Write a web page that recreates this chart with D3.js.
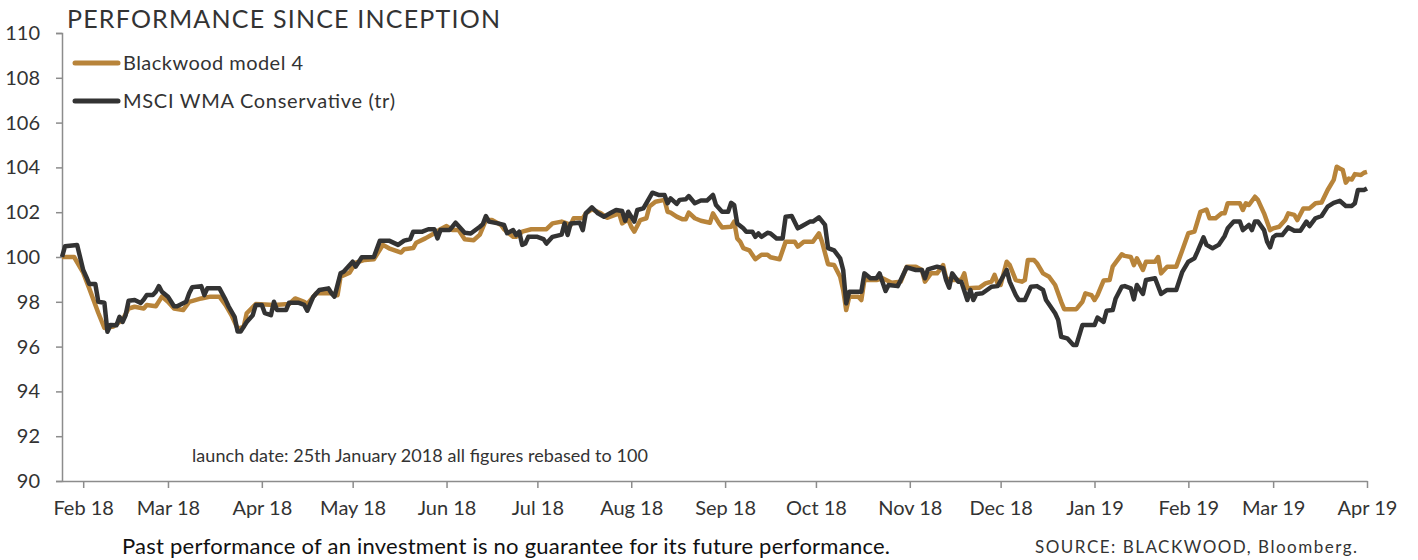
<!DOCTYPE html>
<html>
<head>
<meta charset="utf-8">
<script src="https://cdn.jsdelivr.net/npm/d3@7"></script>
<style>
  html, body { margin: 0; padding: 0; background: #ffffff; }
  svg { display: block; font-family: Lato, "Open Sans", sans-serif; }
</style>
</head>
<body>
<svg id="chart" width="1418" height="560"></svg>
<script>
// ---- data (days since launch, 25 Jan 2018; index rebased to 100) ----
const launchDate = "2018-01-25";
const endDate = "2019-04-01";
const yTicks = [90, 92, 94, 96, 98, 100, 102, 104, 106, 108, 110];
const seriesNames = ["Blackwood model 4", "MSCI WMA Conservative (tr)"];

const modelDays = [0,4,7,9,12,14,17,20,22,24,27,28,31,33,35,37,40,42,46,49,52,54,56,58,60,61,64,70,75,77,80,81,84,89,91,92,95,97,100,103,106,108,112,113,116,117,120,123,125,127,129,131,133,136,138,140,142,145,146,149,150,152,155,160,162,165,166,168,169,172,173,175,178,180,182,184,185,187,188,189,191,193,194,196,199,200,201,203,205,206,207,209,211,214,215,217,218,221,222,223,224,225,227,229,231,233,234,237,239,242,243,245,248,250,251,253,255,257,258,259,260,263,264,265,269,271,274,277,279,282,284,285,287,289,291,292,294,297,298,299,302,303,305,307,308,309,310,312,313,315,317,318,319,321,322,324,326,328,330,331,335,337,338,340,341,342,344,346,347,350,351,353,354,355,357,358,361,362,363,365,368,370,372,374,376,378,379,381,383,384,385,389,390,391,392,394,395,397,399,400,402,404,405,407,408,410,412,414,416,418,420,421,422,423,424,425,426,427,429,430,431];
const modelValues = [100.0,100.0,99.3,98.6,97.5,96.83,96.9,97.2,97.7,97.78,97.7,97.86,97.8,98.23,98.0,97.7,97.63,98.0,98.15,98.23,98.23,97.86,97.4,96.8,96.88,97.49,97.9,97.86,97.9,98.15,98.0,97.9,98.38,98.38,98.3,99.12,99.3,99.75,99.87,99.9,100.54,100.39,100.2,100.35,100.4,100.64,100.83,101.06,101.24,101.38,101.2,101.2,100.79,100.75,101.0,101.65,101.65,101.43,101.24,100.9,100.9,101.13,101.24,101.24,101.5,101.58,101.53,101.43,101.73,101.73,101.95,102.13,101.95,101.75,101.85,101.95,101.5,101.68,101.35,101.13,101.65,101.73,102.25,102.47,102.55,102.02,101.98,101.8,101.68,101.68,101.98,101.73,101.62,101.53,101.95,101.5,101.32,101.35,101.58,100.83,100.68,100.4,100.3,99.9,100.1,100.1,99.99,99.9,100.68,100.68,100.46,100.68,100.68,101.06,100.68,99.68,99.64,99.12,98.53,97.63,98.23,98.23,98.08,98.97,98.97,99.05,98.85,98.9,99.57,99.57,99.42,98.9,99.27,99.27,99.64,99.05,98.97,98.97,99.27,98.6,98.63,98.63,98.82,98.9,99.2,98.82,98.75,99.79,99.64,98.97,98.9,98.97,99.87,99.87,99.72,99.27,99.12,98.75,98.0,97.67,97.67,98.0,98.38,98.3,98.08,98.3,98.95,98.97,99.57,100.12,100.05,100.0,99.64,99.94,99.42,99.79,99.79,100.0,99.27,99.57,99.57,100.3,101.06,101.13,102.02,102.12,101.73,101.73,101.95,101.95,102.4,102.4,102.1,102.4,102.32,102.69,102.54,101.95,101.2,101.28,101.35,101.65,101.95,101.88,101.65,102.17,102.17,102.4,102.43,102.99,103.44,104.03,103.95,103.88,103.32,103.5,103.46,103.7,103.66,103.76,103.8];

const msciDays = [0,1,5,7,8,9,11,12,14,15,16,18,19,20,21,22,24,26,27,28,30,31,32,33,35,37,38,41,42,43,46,47,48,52,54,55,57,58,59,61,63,64,66,67,69,70,71,74,75,78,80,81,83,85,88,89,90,92,93,96,97,99,103,105,108,111,113,115,116,119,121,123,124,125,128,130,133,135,138,139,140,141,144,146,147,149,150,151,152,153,154,157,159,160,162,165,166,167,168,171,172,173,175,177,179,181,183,185,186,187,189,190,192,193,195,197,199,200,201,203,204,206,207,209,211,213,215,216,218,220,221,222,223,225,226,228,229,230,231,233,234,236,238,239,241,243,244,247,248,250,252,253,255,257,258,259,260,264,265,267,269,270,272,273,276,277,279,282,284,285,286,289,291,292,293,294,296,297,299,300,301,302,304,307,309,310,312,313,315,316,318,320,322,324,325,328,329,330,332,334,335,337,341,342,344,345,347,348,350,351,353,354,355,357,358,361,363,365,368,370,372,374,375,377,378,380,382,384,385,387,389,390,392,393,394,395,397,398,399,400,401,403,405,407,409,411,412,414,416,418,420,422,424,426,427,428,430,431];
const msciValues = [100.0,100.48,100.54,99.42,99.12,98.8,98.8,98.0,97.96,96.66,96.96,96.95,97.33,97.1,97.4,98.05,98.08,97.95,98.1,98.3,98.3,98.45,98.7,98.45,98.23,97.8,97.8,98.0,98.38,98.65,98.7,98.3,98.6,98.6,98.1,97.8,97.33,96.67,96.67,97.1,97.4,97.86,97.86,97.49,97.4,98.0,97.63,97.63,97.96,97.96,97.86,97.6,98.23,98.53,98.6,98.38,98.23,99.27,99.34,99.79,99.57,99.99,100.0,100.73,100.73,100.54,100.73,100.8,101.13,101.13,101.24,101.24,100.83,101.2,101.2,101.53,101.08,101.05,101.35,101.47,101.83,101.58,101.5,101.43,101.06,101.2,100.98,101.13,100.54,100.6,100.9,100.9,100.8,100.6,100.9,101.0,101.5,100.98,101.5,101.53,101.2,101.95,102.22,101.95,101.8,101.95,102.1,102.05,101.62,102.02,101.58,102.1,102.17,102.4,102.87,102.77,102.77,102.4,102.62,102.37,102.55,102.58,102.72,102.4,102.52,102.52,102.77,102.32,102.02,102.02,102.42,102.32,101.5,101.28,101.13,101.13,100.9,101.05,100.9,101.08,101.05,100.83,100.83,101.8,101.83,101.28,101.35,101.58,101.58,101.77,101.43,100.4,100.3,99.94,99.42,97.93,98.45,98.45,99.27,99.05,99.05,99.27,98.48,98.75,98.7,98.97,99.54,99.42,99.42,99.05,99.45,99.57,99.5,98.97,98.63,99.27,98.9,98.9,98.08,98.53,98.08,98.35,98.38,98.67,98.7,98.94,99.42,98.9,98.3,98.08,98.08,98.67,98.7,98.53,98.08,97.49,97.19,96.44,96.37,96.07,96.07,96.96,96.96,97.3,97.1,97.6,97.63,98.15,98.67,98.7,98.6,98.11,98.75,98.35,98.97,99.05,98.35,98.53,98.53,99.34,99.79,99.94,100.24,100.88,100.54,100.39,100.54,100.94,101.28,101.58,101.58,101.2,101.43,101.2,101.58,101.58,101.2,100.68,100.43,100.88,100.98,100.98,101.32,101.17,101.17,101.58,101.38,101.73,101.83,102.25,102.42,102.51,102.28,102.28,102.4,102.99,102.99,103.06];

// ---- drawing ----
const svg = d3.select("#chart");
const parse = d3.utcParse("%Y-%m-%d");
const t0 = parse(launchDate), t1 = parse(endDate);

const x = d3.scaleUtc().domain([t0, t1]).range([62, 1367]);
const y = d3.scaleLinear().domain([90, 110]).range([481, 33]);

const toPoints = (days, vals) => days.map((d, i) => ({ date: d3.utcDay.offset(t0, d), v: vals[i] }));
const model = toPoints(modelDays, modelValues);
const msci = toPoints(msciDays, msciValues);

const axisColor = "#8c8c8c";
const textColor = "#333333";
const gold = "#b8843a";
const dark = "#333333";

// Y axis
const yAxis = svg.append("g").attr("transform", "translate(62,0)")
  .call(d3.axisLeft(y).tickValues(yTicks).tickSize(6).tickPadding(16).tickFormat(d3.format("d")));
yAxis.select(".domain").attr("stroke", axisColor).attr("stroke-width", 1.5);
yAxis.selectAll(".tick line").attr("stroke", axisColor).attr("stroke-width", 1.5);
yAxis.selectAll(".tick text").attr("fill", textColor).style("font-size", "20px").style("font-family", "Lato, sans-serif");

// X axis
const monthTicks = d3.utcMonth.range(d3.utcMonth.ceil(t0), d3.utcDay.offset(t1, 1));
const xAxis = svg.append("g").attr("transform", "translate(0,481)")
  .call(d3.axisBottom(x).tickValues(monthTicks).tickSize(7).tickPadding(13).tickFormat(d3.utcFormat("%b %y")).tickSizeOuter(0));
xAxis.select(".domain").attr("stroke", axisColor).attr("stroke-width", 1.5);
xAxis.selectAll(".tick line").attr("stroke", axisColor).attr("stroke-width", 1.5);
xAxis.selectAll(".tick text").attr("fill", textColor).style("font-size", "20px").style("font-family", "Lato, sans-serif");

// Lines
const line = d3.line().x(d => x(d.date)).y(d => y(d.v)).curve(d3.curveLinear);
svg.append("path").datum(model).attr("d", line)
  .attr("fill", "none").attr("stroke", gold).attr("stroke-width", 4.5).attr("stroke-linejoin", "round");
svg.append("path").datum(msci).attr("d", line)
  .attr("fill", "none").attr("stroke", dark).attr("stroke-width", 4.5).attr("stroke-linejoin", "round");

// helper for text with a target width
function label(xp, yp, size, str, width, fill, anchor) {
  const t = svg.append("text").attr("x", xp).attr("y", yp).attr("fill", fill || textColor)
    .style("font-size", size + "px").text(str);
  if (anchor) t.attr("text-anchor", anchor);
  if (width) t.attr("textLength", width).attr("lengthAdjust", "spacing");
  return t;
}

// Title
label(67, 28, 25, "PERFORMANCE SINCE INCEPTION", 433);

// Legend
const legend = [{ name: seriesNames[0], color: gold, yy: 63, w: 180 }, { name: seriesNames[1], color: dark, yy: 101, w: 272 }];
legend.forEach(l => {
  svg.append("line").attr("x1", 75).attr("x2", 118).attr("y1", l.yy).attr("y2", l.yy)
    .attr("stroke", l.color).attr("stroke-width", 5).attr("stroke-linecap", "round");
  label(123, l.yy + 7, 20, l.name, l.w);
});

// Annotation
label(192, 462, 18, "launch date: 25th January 2018 all figures rebased to 100", 456);

// Footer
label(122, 554, 22, "Past performance of an investment is no guarantee for its future performance.", 768, "#111111");
label(1035, 553, 17, "SOURCE:  BLACKWOOD, Bloomberg.", 322);
</script>
</body>
</html>
